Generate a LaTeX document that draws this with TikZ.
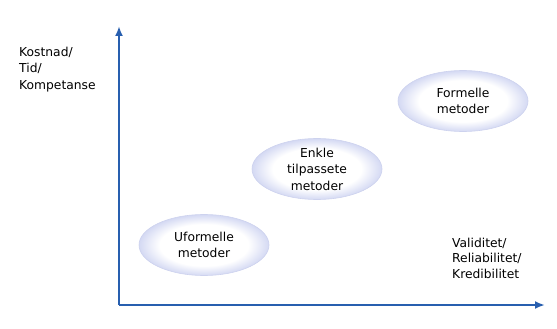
\documentclass[tikz,border=0pt]{standalone}
\usepackage{fontspec}
\setmainfont{DejaVu Sans}
\usetikzlibrary{shapes.geometric,arrows.meta}
\definecolor{axisblue}{RGB}{40,95,175}
\definecolor{lavedge}{RGB}{205,210,238}
\definecolor{lavfill}{RGB}{212,217,243}
\pgfdeclareradialshading{lavring}{\pgfpoint{0bp}{0bp}}{color(0bp)=(white); color(17bp)=(white); color(25bp)=(lavfill); color(50bp)=(lavfill)}
\tikzset{
  method/.style={ellipse, minimum width=130pt, minimum height=61pt, draw=lavedge, line width=0.6pt,
    shading=lavring, align=center, inner sep=0pt,
    font=\fontsize{12.3}{16.5}\selectfont},
  axislabel/.style={align=left, anchor=north west, inner sep=0pt, font=\fontsize{12.3}{16.3}\selectfont},
  axisline/.style={draw=axisblue, line width=2pt, -{Latex[length=10pt,width=8pt]}}
}
\begin{document}
\begin{tikzpicture}[x=1pt,y=-1pt]
\useasboundingbox (0,0) rectangle (557,329);
\coordinate (O) at (119,305);
\coordinate (Y) at (119,26);
\coordinate (X) at (545,305);
\draw[axisline] (O) -- (Y);
\draw[axisline] (O) -- (X);
\node[axislabel] (ylab) at (19,47) {Kostnad/\\Tid/\\Kompetanse};
\node[axislabel, font=\fontsize{12.3}{15.3}\selectfont] (xlab) at (452,238) {Validitet/\\Reliabilitet/\\Kredibilitet};
\node[method] (uf) at (204,245) {Uformelle\\metoder};
\node[method] (en) at (317,169) {Enkle\\tilpassete\\metoder};
\node[method] (fo) at (463,101) {Formelle\\metoder};
\end{tikzpicture}
\end{document}
